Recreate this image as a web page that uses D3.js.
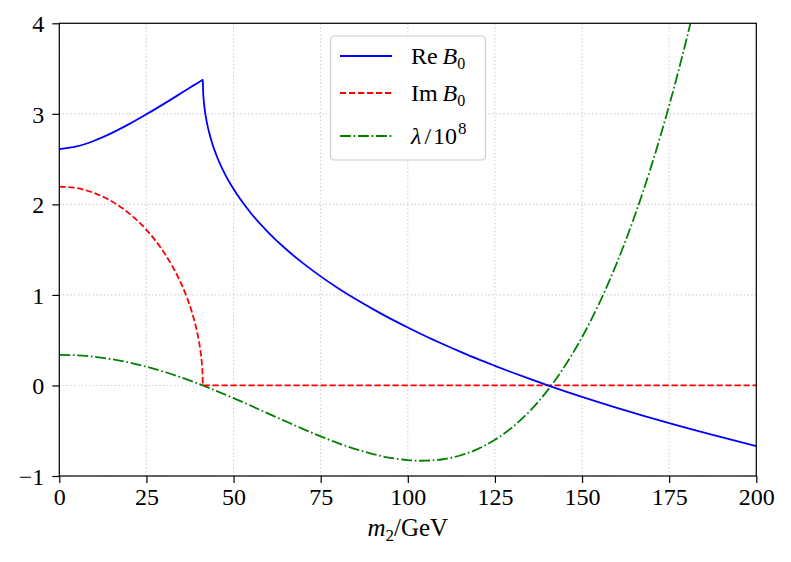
<!DOCTYPE html>
<meta charset="utf-8" />
<style>
  body { margin: 0; background: #fff; }
  svg text { font-family: "Liberation Serif", "DejaVu Serif", serif; fill: #000; }
</style>
<body>
  <div id="chart"></div>
  <script src="https://cdn.jsdelivr.net/npm/d3@7"></script>
  <script>
    // m2 in GeV
    var m2Re = [0, 5, 10, 15, 20, 25, 30, 35, 38, 40, 41, 41.19, 41.25, 41.5, 42, 43, 44, 45, 47.5, 50,
      55, 60, 65, 70, 75, 80, 85, 90, 95, 100, 105, 110, 115, 120, 125, 130, 135, 140, 141.19,
      150, 160, 175, 187.5, 200];
    var reB0 = [2.611, 2.640, 2.703, 2.787, 2.886, 2.995, 3.110, 3.229, 3.301, 3.349, 3.372, 3.377,
      3.265, 3.126, 2.978, 2.793, 2.659, 2.551, 2.337, 2.169, 1.902, 1.689, 1.507, 1.348, 1.205,
      1.074, 0.954, 0.843, 0.738, 0.640, 0.546, 0.458, 0.374, 0.293, 0.217, 0.143, 0.072, 0.003,
      -0.013, -0.127, -0.248, -0.417, -0.547, -0.669];

    var m2Im = [0, 5, 10, 15, 20, 25, 30, 35, 36.5, 38, 39, 40, 40.5, 41, 41.1, 41.19, 200];
    var imB0 = [2.197, 2.180, 2.126, 2.035, 1.901, 1.719, 1.471, 1.122, 0.984, 0.817, 0.679, 0.503,
      0.383, 0.202, 0.139, 0, 0];

    var m2Lam = [0, 5, 10, 15, 20, 25, 30, 35, 40, 41.19, 45, 50, 55, 60, 65, 70, 75, 80, 85, 90, 95,
      100, 104, 105, 110, 115, 120, 125, 130, 135, 140, 141.19, 145, 150, 155, 160, 165, 170, 175,
      180, 185, 190, 200];
    var lam = [0.3382, 0.3328, 0.3167, 0.2900, 0.2533, 0.2069, 0.1516, 0.0882, 0.0177, 0, -0.0588,
      -0.1401, -0.2246, -0.3109, -0.3972, -0.4816, -0.5621, -0.6366, -0.7026, -0.7578, -0.7995,
      -0.8249, -0.8316, -0.8311, -0.8151, -0.7735, -0.7031, -0.6003, -0.4614, -0.2826, -0.0599, 0,
      0.2108, 0.5337, 0.9133, 1.3542, 1.8611, 2.4389, 3.0926, 3.8273, 4.6484, 5.5614, 7.6857];

    var xTicks = [0, 25, 50, 75, 100, 125, 150, 175, 200];
    var yTicks = [-1, 0, 1, 2, 3, 4];

    var largura = 791, altura = 562;
    var esq = 59.3, dir = 756.3, topo = 23.3, base = 476;

    var x = d3.scaleLinear().domain([0, 200]).range([esq, dir]);
    var y = d3.scaleLinear().domain([-1, 4]).range([base, topo]);

    var svg = d3.select("#chart").append("svg")
      .attr("width", largura)
      .attr("height", altura);

    svg.append("defs").append("clipPath").attr("id", "area")
      .append("rect")
      .attr("x", esq).attr("y", topo)
      .attr("width", dir - esq).attr("height", base - topo);

    // grade pontilhada
    var grade = svg.append("g").attr("stroke", "#cfcfcf").attr("stroke-width", 1.1)
      .attr("stroke-dasharray", "1.4,2.3");
    grade.selectAll(".gx").data(xTicks).enter().append("line")
      .attr("x1", d => x(d)).attr("x2", d => x(d))
      .attr("y1", topo).attr("y2", base);
    grade.selectAll(".gy").data(yTicks).enter().append("line")
      .attr("x1", esq).attr("x2", dir)
      .attr("y1", d => y(d)).attr("y2", d => y(d));

    var linha = d3.line()
      .x(d => x(d[0]))
      .y(d => y(d[1]))
      .curve(d3.curveMonotoneX);

    var curvas = svg.append("g").attr("clip-path", "url(#area)").attr("fill", "none");

    curvas.append("path")
      .attr("d", linha(d3.zip(m2Lam, lam)))
      .attr("stroke", "#008000").attr("stroke-width", 1.8)
      .attr("stroke-dasharray", "10.9,2.7,1.7,2.7");

    curvas.append("path")
      .attr("d", linha(d3.zip(m2Im, imB0)))
      .attr("stroke", "#ff0000").attr("stroke-width", 1.8)
      .attr("stroke-dasharray", "6.3,2.7");

    curvas.append("path")
      .attr("d", linha(d3.zip(m2Re, reB0)))
      .attr("stroke", "#0000ff").attr("stroke-width", 1.8);

    // eixos
    var eixoX = svg.append("g")
      .attr("transform", "translate(0," + base + ")")
      .call(d3.axisBottom(x).tickValues(xTicks).tickSize(7).tickSizeOuter(0).tickPadding(5));
    var eixoY = svg.append("g")
      .attr("transform", "translate(" + esq + ",0)")
      .call(d3.axisLeft(y).tickValues(yTicks).tickSize(7).tickSizeOuter(0).tickPadding(8)
        .tickFormat(d => (d < 0 ? "\u2212" + Math.abs(d) : d)));

    [eixoX, eixoY].forEach(function (g) {
      g.attr("font-size", null).attr("font-family", null);
      g.select(".domain").remove();
      g.selectAll(".tick line").attr("stroke", "#000").attr("stroke-width", 1.2);
      g.selectAll(".tick text").style("font-size", "24px");
    });
    eixoY.selectAll(".tick text").attr("dy", "0.34em");

    svg.append("rect")
      .attr("x", esq).attr("y", topo)
      .attr("width", dir - esq).attr("height", base - topo)
      .attr("fill", "none").attr("stroke", "#000").attr("stroke-width", 1.2);

    // rótulo do eixo x
    var rotulo = svg.append("text")
      .attr("x", x(100)).attr("y", 536)
      .attr("text-anchor", "middle")
      .style("font-size", "25px");
    rotulo.append("tspan").attr("font-style", "italic").text("m");
    rotulo.append("tspan").style("font-size", "17px").attr("dy", 5).text("2");
    rotulo.append("tspan").attr("dy", -5).text("/GeV");

    // legenda
    var legenda = svg.append("g");
    legenda.append("rect")
      .attr("x", 330.5).attr("y", 36).attr("width", 155).attr("height", 124)
      .attr("rx", 4).attr("fill", "#fff").attr("stroke", "#cccccc").attr("stroke-width", 1.2);

    var itens = [
      { cor: "#0000ff", traco: null, pre: "Re\u2009", sym: "B", sub: "0", sup: null },
      { cor: "#ff0000", traco: "6.3,2.7", pre: "Im\u2009", sym: "B", sub: "0", sup: null },
      { cor: "#008000", traco: "10.9,2.7,1.7,2.7", pre: "", sym: "\u03bb", sub: null, sup: "8" }
    ];
    var yLeg = [56, 93, 136];

    itens.forEach(function (it, i) {
      legenda.append("line")
        .attr("x1", 340).attr("x2", 392)
        .attr("y1", yLeg[i]).attr("y2", yLeg[i])
        .attr("stroke", it.cor).attr("stroke-width", 1.8)
        .attr("stroke-dasharray", it.traco);
      var t = legenda.append("text")
        .attr("x", 411).attr("y", yLeg[i] + 8)
        .style("font-size", "24px");
      if (it.pre) t.append("tspan").text(it.pre);
      t.append("tspan").attr("font-style", "italic").text(it.sym);
      if (it.sub) t.append("tspan").style("font-size", "16px").attr("dy", 5).text(it.sub);
      if (it.sup) {
        t.append("tspan").attr("dx", 3).text("/");
        t.append("tspan").attr("dx", 2).text("10");
        t.append("tspan").style("font-size", "17px").attr("dx", 1).attr("dy", -10).text(it.sup);
      }
    });
  </script>
</body>
